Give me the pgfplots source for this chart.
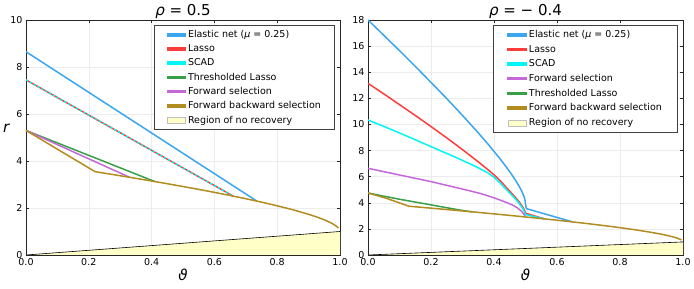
\documentclass[border=0pt]{standalone}
\usepackage{fontspec}
\setmainfont{DejaVu Sans}
\usepackage{pgfplots}
\pgfplotsset{compat=1.18}
\definecolor{cEN}{RGB}{58,166,240}
\definecolor{cLA}{RGB}{255,60,60}
\definecolor{cSC}{RGB}{0,245,245}
\definecolor{cTL}{RGB}{56,160,72}
\definecolor{cFS}{RGB}{196,104,216}
\definecolor{cFB}{RGB}{178,140,30}
\definecolor{cNR}{RGB}{255,255,200}
\pgfplotsset{
 mystyle/.style={
  scale only axis, height=235pt, xmin=0, xmax=1, ymin=0,
  axis line style={black!85, line width=0.8pt},
  grid=major, major grid style={gray!15, line width=0.4pt},
  tick align=inside, major tick length=3pt, tick style={black!85, line width=0.5pt},
  xtick={0,0.2,0.4,0.6,0.8,1},
  xticklabel style={/pgf/number format/.cd,fixed,fixed zerofill,precision=1},
  /pgf/number format/assume math mode=true,
  tick label style={font=\fontsize{9.5}{11}\selectfont},
  legend cell align=left,
  legend style={at={(0.985,0.978)}, anchor=north east, draw=black!75, line width=0.8pt,
    font=\fontsize{9.5}{11.5}\selectfont, row sep=1.6pt, inner xsep=12pt, inner ysep=3pt},
  legend image code/.code={\fill[##1] (0pt,-1pt) rectangle (18pt,1pt);},
  every axis plot/.append style={line width=1.5pt},
  title style={font=\fontsize{15}{15}\selectfont, anchor=base, yshift=-2pt},
  xlabel style={font=\fontsize{15}{15}\selectfont, yshift=4pt},
 }
}
\begin{document}
\begin{tikzpicture}
\useasboundingbox (0,0) rectangle (694pt,289pt);
% ---------------- left: rho = 0.5
\begin{axis}[mystyle, at={(26pt,34pt)}, anchor=south west, width=314pt,
  ymax=10, ytick={0,2,4,6,8,10},
  title={\textit{ρ} = 0.5}, xlabel={\textit{ϑ}}, ylabel={\textit{r}},
  ylabel style={rotate=-90, font=\fontsize{15}{15}\selectfont, at={(axis description cs:-0.062,0.54)}, anchor=center}]
\addplot[fill=cNR, draw=none, forget plot] coordinates {(0,0) (1,1)} \closedcycle;
\addplot[black, line width=0.6pt, forget plot] coordinates {(0,0) (1,1)};
\addplot[cEN, forget plot] coordinates {(0,8.65) (0.735,2.295)};
\addplot[cLA, forget plot] coordinates {(0,7.45) (0.66,2.506)};
\addplot[cSC, dash pattern=on 2.2pt off 2.2pt, forget plot] coordinates {(0,7.45) (0.66,2.506)};
\addplot[cTL, forget plot] coordinates {(0,5.3) (0.41,3.126)};
\addplot[cFS, forget plot] coordinates {(0,5.3) (0.33,3.307)};
\addplot[cFB, forget plot] coordinates {(0,5.3) (0.22,3.546) (0.25,3.482) (0.30,3.373) (0.35,3.262)
 (0.40,3.149) (0.45,3.033) (0.50,2.914) (0.55,2.792) (0.60,2.665) (0.65,2.533)
 (0.70,2.395) (0.75,2.25) (0.80,2.094) (0.85,1.925) (0.90,1.732) (0.93,1.599)
 (0.95,1.497) (0.97,1.375) (0.98,1.303) (0.99,1.21) (0.995,1.146)};
\addlegendimage{cEN}
\addlegendentry{Elastic net (\textit{μ} = 0.25)}
\addlegendimage{cLA}
\addlegendentry{Lasso}
\addlegendimage{cSC}
\addlegendentry{SCAD}
\addlegendimage{cTL}
\addlegendentry{Thresholded Lasso}
\addlegendimage{cFS}
\addlegendentry{Forward selection}
\addlegendimage{cFB}
\addlegendentry{Forward backward selection}
\addlegendimage{legend image code/.code={\draw[fill=cNR, draw=black!25, line width=0.5pt] (0pt,-3pt) rectangle (18pt,3pt);}}
\addlegendentry{Region of no recovery}
\end{axis}
% ---------------- right: rho = -0.4
\begin{axis}[mystyle, at={(368pt,34pt)}, anchor=south west, width=315pt,
  ymax=18, ytick={0,2,4,6,8,10,12,14,16,18},
  title={\textit{ρ} = − 0.4}, xlabel={\textit{ϑ}},
  legend style={inner xsep=14pt, row sep=2pt}]
\addplot[fill=cNR, draw=none, forget plot] coordinates {(0,0) (1,1)} \closedcycle;
\addplot[black, line width=0.6pt, forget plot] coordinates {(0,0) (1,1)};
\addplot[cEN, forget plot] coordinates {(0,18.0) (0.05,16.83) (0.1,15.65) (0.15,14.45) (0.2,13.22)
 (0.25,11.98) (0.3,10.69) (0.35,9.36) (0.38,8.52) (0.40,7.94) (0.42,7.34) (0.44,6.71)
 (0.46,6.03) (0.47,5.66) (0.48,5.25) (0.487,4.94) (0.493,4.61) (0.497,4.34) (0.499,4.14)
 (0.5,3.9) (0.503,3.55) (0.65,2.533)};
\addplot[cLA, forget plot] coordinates {(0,13.15) (0.05,12.34) (0.1,11.52) (0.15,10.69) (0.2,9.84)
 (0.25,8.97) (0.3,8.07) (0.35,7.14) (0.38,6.55) (0.40,6.14) (0.42,5.68) (0.44,5.15)
 (0.46,4.62) (0.47,4.35) (0.48,4.06) (0.487,3.83) (0.493,3.6) (0.497,3.42) (0.5,3.2)
 (0.56,2.767)};
\addplot[cSC, forget plot] coordinates {(0,10.34) (0.05,9.85) (0.1,9.35) (0.15,8.83) (0.2,8.3)
 (0.25,7.78) (0.3,7.25) (0.35,6.68) (0.38,6.3) (0.40,5.95) (0.42,5.5) (0.44,5.0)
 (0.46,4.5) (0.47,4.24) (0.48,3.95) (0.487,3.72) (0.493,3.48) (0.497,3.28) (0.5,3.1)
 (0.56,2.767)};
\addplot[cFS, forget plot] coordinates {(0,6.64) (0.1,6.13) (0.202,5.61) (0.3,5.05) (0.356,4.72)
 (0.4,4.38) (0.419,4.21) (0.44,4.02) (0.461,3.8) (0.475,3.6) (0.488,3.33)
 (0.495,3.12) (0.5,2.914)};
\addplot[cTL, forget plot] coordinates {(0,4.75) (0.1,4.27) (0.2,3.84) (0.25,3.62) (0.3,3.41) (0.33,3.307)};
\addplot[cFB, forget plot] coordinates {(0,4.75) (0.06,4.33) (0.13,3.736) (0.15,3.694) (0.20,3.589)
 (0.25,3.482) (0.30,3.373) (0.35,3.262) (0.40,3.149) (0.45,3.033) (0.50,2.914)
 (0.55,2.792) (0.60,2.665) (0.65,2.533) (0.70,2.395) (0.75,2.25) (0.80,2.094)
 (0.85,1.925) (0.90,1.732) (0.93,1.599) (0.95,1.497) (0.97,1.375) (0.98,1.303)
 (0.99,1.21) (0.995,1.146)};
\addlegendimage{cEN}
\addlegendentry{Elastic net (\textit{μ} = 0.25)}
\addlegendimage{cLA}
\addlegendentry{Lasso}
\addlegendimage{cSC}
\addlegendentry{SCAD}
\addlegendimage{cFS}
\addlegendentry{Forward selection}
\addlegendimage{cTL}
\addlegendentry{Thresholded Lasso}
\addlegendimage{cFB}
\addlegendentry{Forward backward selection}
\addlegendimage{legend image code/.code={\draw[fill=cNR, draw=black!25, line width=0.5pt] (0pt,-3pt) rectangle (18pt,3pt);}}
\addlegendentry{Region of no recovery}
\end{axis}
\end{tikzpicture}
\end{document}
